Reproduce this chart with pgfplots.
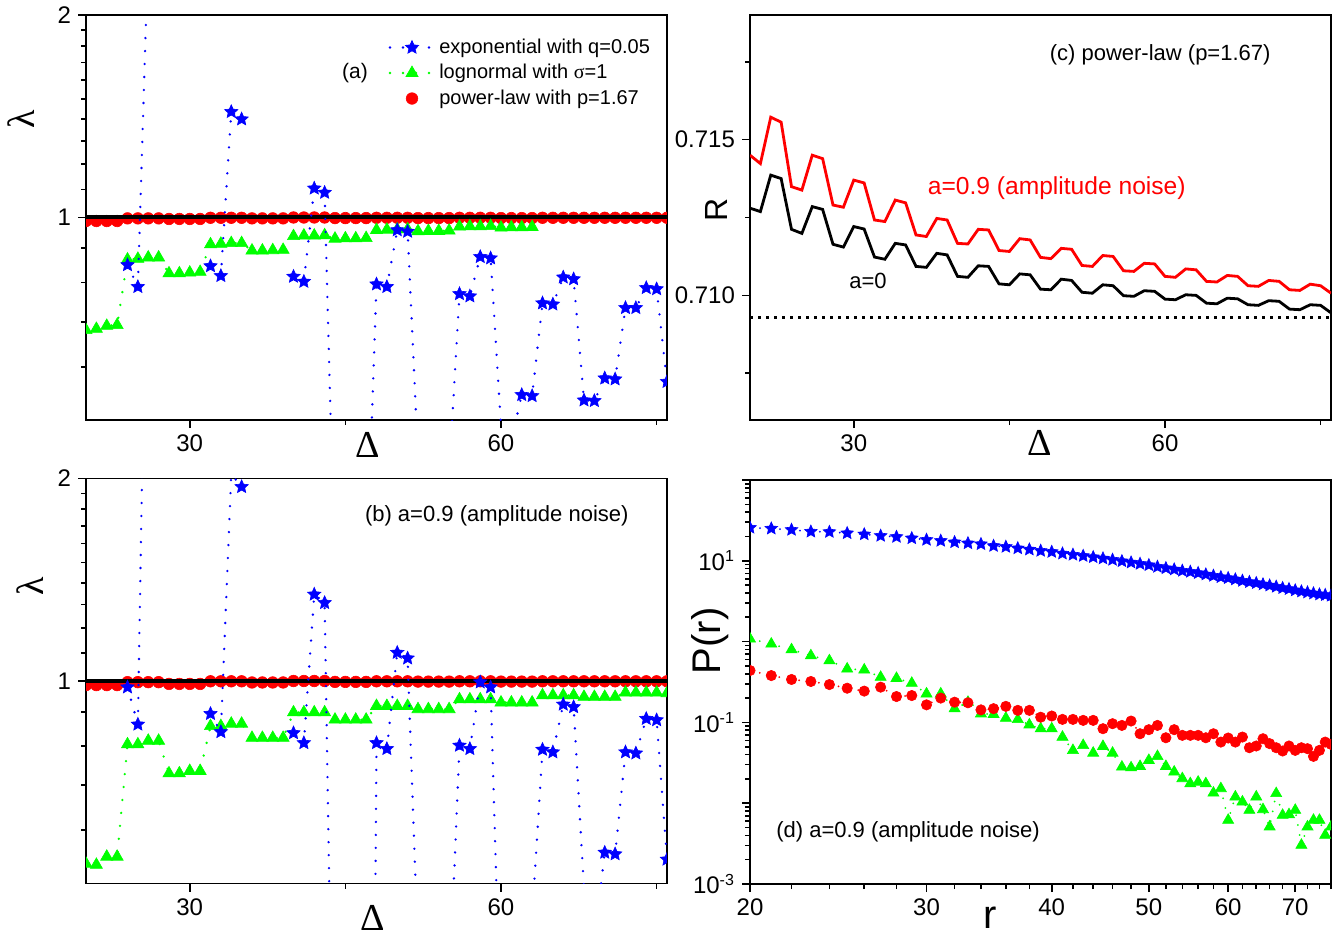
\documentclass[border=0pt]{standalone}
\usepackage{fontspec}
\setmainfont{Liberation Sans}
\newfontfamily\serifgreek{Liberation Serif}
\usepackage{pgfplots}
\pgfplotsset{compat=1.18}
\pgfdeclareplotmark{fstar}{%
  \pgfpathmoveto{\pgfpointpolar{90}{\pgfplotmarksize}}%
  \pgfpathlineto{\pgfpointpolar{126}{0.47\pgfplotmarksize}}%
  \pgfpathlineto{\pgfpointpolar{162}{\pgfplotmarksize}}%
  \pgfpathlineto{\pgfpointpolar{198}{0.47\pgfplotmarksize}}%
  \pgfpathlineto{\pgfpointpolar{234}{\pgfplotmarksize}}%
  \pgfpathlineto{\pgfpointpolar{270}{0.47\pgfplotmarksize}}%
  \pgfpathlineto{\pgfpointpolar{306}{\pgfplotmarksize}}%
  \pgfpathlineto{\pgfpointpolar{342}{0.47\pgfplotmarksize}}%
  \pgfpathlineto{\pgfpointpolar{18}{\pgfplotmarksize}}%
  \pgfpathlineto{\pgfpointpolar{54}{0.47\pgfplotmarksize}}%
  \pgfpathclose
  \pgfusepathqfillstroke
}
\definecolor{pblue}{RGB}{0,0,255}
\definecolor{pgreen}{RGB}{0,255,0}
\definecolor{pred}{RGB}{255,0,0}
\pgfplotsset{every axis/.append style={
    scale only axis, width=290.5pt, height=202.5pt,
    axis line style={line width=0.9pt},
    tick align=outside, xtick pos=lower, ytick pos=left,
    major tick length=4pt, minor tick length=2.5pt,
    tick style={line width=0.8pt, black},
    tick label style={font=\fontsize{12}{14}\selectfont},
    unbounded coords=jump, clip marker paths=true,
    label style={font=\fontsize{19}{19}\selectfont}}}
\begin{document}
\begin{tikzpicture}
\path[use as bounding box] (0,0) rectangle (668.5pt,-468.5pt);
% ---------------- (a)
\begin{axis}[anchor=north west, at={(43pt,-7.5pt)},
  xmin=20, xmax=76, ymode=log, ymin=0.5, ymax=2,
  xtick={30,60}, minor xtick={45,75}, ytick={1,2}, yticklabels={1,2},
  minor ytick={0.6,0.7,0.8,0.9,1.1,1.2,1.3,1.4,1.5,1.6,1.7,1.8,1.9},
  /pgf/number format/assume math mode=true,
  ylabel={\serifgreek λ}, xlabel={\serifgreek Δ},
  xlabel style={at={(axis description cs:0.485,-0.062)}, anchor=center},
  ylabel style={at={(axis description cs:-0.111,0.743)}, anchor=center},
  legend style={draw=none, fill=none, at={(axis description cs:0.51,0.962)}, anchor=north west,
    font=\fontsize{10}{12}\selectfont, row sep=0pt},
  legend cell align=left,
  legend image code/.code={\draw[mark repeat=2,mark phase=2,#1] plot coordinates {(0pt,0pt) (11pt,0pt) (22pt,0pt)};}]
\addlegendimage{pblue, line width=1.3pt, line cap=round, dash pattern=on 0pt off 6.5pt, mark=fstar, mark size=3.5pt, mark options={solid, line width=0.3pt, fill=pblue}}
\addlegendentry{exponential with q=0.05}
\addlegendimage{pgreen, line width=1.3pt, line cap=round, dash pattern=on 0pt off 6.5pt, mark=triangle*, mark size=3.5pt, mark options={solid, line width=0.3pt, fill=pgreen}}
\addlegendentry{lognormal with {\serifgreek σ}=1}
\addlegendimage{pred, only marks, mark=*, mark size=2.9pt, mark options={solid, line width=0.3pt, fill=pred}}
\addlegendentry{power-law with p=1.67}
\addplot[pred, only marks, mark=*, mark size=2.9pt, mark options={solid, line width=0.3pt, fill=pred}, forget plot] table {
20 0.988
21 0.988
22 0.988
23 0.988
24 0.997
25 0.997
26 0.997
27 0.997
28 0.995
29 0.995
30 0.995
31 0.995
32 0.999
33 0.999
34 0.999
35 0.999
36 0.997
37 0.997
38 0.997
39 0.997
40 1.000
41 1.000
42 1.000
43 1.000
44 0.998
45 0.998
46 0.998
47 0.998
48 0.999
49 0.999
50 0.999
51 0.999
52 0.998
53 0.998
54 0.998
55 0.998
56 0.999
57 0.999
58 0.999
59 0.999
60 0.998
61 0.998
62 0.998
63 0.998
64 0.999
65 0.999
66 0.999
67 0.999
68 0.999
69 0.999
70 0.999
71 0.999
72 0.999
73 0.999
74 0.999
75 0.999
76 0.999
};
\addplot[black, line width=2pt, forget plot] coordinates {(20,1) (76,1)};
\addplot[pgreen, line width=1.3pt, line cap=round, dash pattern=on 0pt off 6.5pt, mark=triangle*, mark size=3.5pt, mark options={solid, line width=0.3pt, fill=pgreen}, forget plot] table {
20 0.680
21 0.683
22 0.690
23 0.692
24 0.866
25 0.868
26 0.872
27 0.872
28 0.826
29 0.826
30 0.828
31 0.830
32 0.912
33 0.914
34 0.916
35 0.916
36 0.893
37 0.893
38 0.894
39 0.895
40 0.938
41 0.940
42 0.940
43 0.941
44 0.930
45 0.931
46 0.931
47 0.932
48 0.958
49 0.959
50 0.960
51 0.960
52 0.954
53 0.955
54 0.955
55 0.956
56 0.969
57 0.970
58 0.970
59 0.971
60 0.966
61 0.967
62 0.967
63 0.968
};
\addplot[pblue, line width=1.3pt, line cap=round, dash pattern=on 0pt off 6.5pt, mark=fstar, mark size=3.5pt, mark options={solid, line width=0.3pt, fill=pblue}, forget plot] table {
24 0.850
25 0.789
26 2.53
27 nan
31 nan
32 0.847
33 0.819
34 1.436
35 1.400
36 nan
39 nan
40 0.817
41 0.803
42 1.105
43 1.089
44 0.285
45 nan
47 0.283
48 0.796
49 0.789
50 0.958
51 0.953
52 0.44
53 nan
55 0.417
56 0.770
57 0.764
58 0.874
59 0.870
60 0.49
61 0.466
62 0.545
63 0.543
64 0.746
65 0.743
66 0.815
67 0.810
68 0.535
69 0.534
70 0.577
71 0.575
72 0.734
73 0.734
74 0.786
75 0.783
76 0.570
};
\node[font=\fontsize{10.5}{12}\selectfont] at (rel axis cs:0.463,0.857) {(a)};
\end{axis}
% ---------------- (b)
\begin{axis}[anchor=north west, at={(43pt,-239.25pt)},
  xmin=20, xmax=76, ymode=log, ymin=0.5, ymax=2,
  xtick={30,60}, minor xtick={45,75}, ytick={1,2}, yticklabels={1,2},
  minor ytick={0.6,0.7,0.8,0.9,1.1,1.2,1.3,1.4,1.5,1.6,1.7,1.8,1.9},
  /pgf/number format/assume math mode=true,
  ylabel={\serifgreek λ}, xlabel={\serifgreek Δ},
  xlabel style={at={(axis description cs:0.494,-0.084)}, anchor=center},
  ylabel style={at={(axis description cs:-0.096,0.734)}, anchor=center}]
\addplot[pred, only marks, mark=*, mark size=2.9pt, mark options={solid, line width=0.3pt, fill=pred}] table {
20 0.986
21 0.986
22 0.986
23 0.986
24 0.996
25 0.996
26 0.996
27 0.996
28 0.990
29 0.990
30 0.990
31 0.990
32 0.999
33 0.999
34 0.999
35 0.999
36 0.995
37 0.995
38 0.995
39 0.995
40 1.000
41 1.000
42 1.000
43 1.000
44 0.997
45 0.997
46 0.997
47 0.997
48 0.999
49 0.999
50 0.999
51 0.999
52 0.998
53 0.998
54 0.998
55 0.998
56 0.999
57 0.999
58 0.999
59 0.999
60 0.998
61 0.998
62 0.998
63 0.998
64 0.999
65 0.999
66 0.999
67 0.999
68 0.999
69 0.999
70 0.999
71 0.999
72 0.999
73 0.999
74 0.999
75 0.999
76 0.999
};
\addplot[black, line width=2pt] coordinates {(20,1) (76,1)};
\addplot[pgreen, line width=1.3pt, line cap=round, dash pattern=on 0pt off 6.5pt, mark=triangle*, mark size=3.5pt, mark options={solid, line width=0.3pt, fill=pgreen}] table {
20 0.535
21 0.533
22 0.548
23 0.548
24 0.805
25 0.805
26 0.815
27 0.815
28 0.729
29 0.729
30 0.735
31 0.735
32 0.857
33 0.857
34 0.864
35 0.864
36 0.823
37 0.823
38 0.823
39 0.823
40 0.898
41 0.898
42 0.898
43 0.898
44 0.876
45 0.876
46 0.876
47 0.876
48 0.918
49 0.918
50 0.918
51 0.918
52 0.908
53 0.908
54 0.908
55 0.908
56 0.939
57 0.939
58 0.939
59 0.939
60 0.929
61 0.929
62 0.929
63 0.929
64 0.952
65 0.952
66 0.952
67 0.952
68 0.947
69 0.947
70 0.947
71 0.947
72 0.961
73 0.961
74 0.961
75 0.961
76 0.959
};
\addplot[pblue, line width=1.3pt, line cap=round, dash pattern=on 0pt off 6.5pt, mark=fstar, mark size=3.5pt, mark options={solid, line width=0.3pt, fill=pblue}] table {
24 0.979
25 0.862
26 7.1
27 nan
31 nan
32 0.894
33 0.840
34 2.03
35 1.944
36 nan
39 nan
40 0.837
41 0.809
42 1.345
43 1.307
44 0.15
45 nan
47 0.0066
48 0.809
49 0.793
50 1.102
51 1.081
52 0.397
53 nan
55 0.341
56 0.802
57 0.793
58 0.996
59 0.979
60 0.289
61 nan
63 0.445
64 0.791
65 0.784
66 0.923
67 0.915
68 0.49
69 0.41
70 0.556
71 0.553
72 0.784
73 0.781
74 0.879
75 0.875
76 0.543
};
\node[font=\fontsize{11}{13}\selectfont] at (rel axis cs:0.707,0.909) {(b) a=0.9 (amplitude noise)};
\end{axis}
% ---------------- (c)
\begin{axis}[anchor=north west, at={(375pt,-7.5pt)}, xmin=20, xmax=76, ymin=0.706, ymax=0.719,
  xtick={30,60}, minor xtick={45,75}, ytick={0.710,0.715}, yticklabels={0.710,0.715},
  minor ytick={0.7075,0.7125,0.7175},
  /pgf/number format/assume math mode=true,
  xlabel={\serifgreek Δ}, ylabel={R},
  xlabel style={at={(axis description cs:0.499,-0.057)}, anchor=center},
  ylabel style={at={(axis description cs:-0.057,0.519)}, anchor=center, font=\fontsize{16}{16}\selectfont}]
\addplot[black, line width=1.4pt, dash pattern=on 1.4pt off 2.6pt] coordinates {(20,0.7093) (76,0.7093)};
\addplot[pred, line width=1.4pt] table {
20 0.71450
21 0.71423
22 0.71572
23 0.71556
24 0.71349
25 0.71338
26 0.71450
27 0.71439
28 0.71290
29 0.71283
30 0.71370
31 0.71361
32 0.71242
33 0.71237
34 0.71306
35 0.71297
36 0.71194
37 0.71189
38 0.71247
39 0.71242
40 0.71167
41 0.71165
42 0.71212
43 0.71210
44 0.71144
45 0.71141
46 0.71182
47 0.71178
48 0.71122
49 0.71118
50 0.71151
51 0.71148
52 0.71096
53 0.71093
54 0.71128
55 0.71125
56 0.71079
57 0.71077
58 0.71103
59 0.71101
60 0.71061
61 0.71058
62 0.71085
63 0.71082
64 0.71045
65 0.71043
66 0.71064
67 0.71061
68 0.71031
69 0.71029
70 0.71048
71 0.71045
72 0.71018
73 0.71016
74 0.71036
75 0.71031
76 0.71007
};
\addplot[black, line width=1.4pt] table {
20 0.71280
21 0.71269
22 0.71386
23 0.71375
24 0.71212
25 0.71199
26 0.71285
27 0.71276
28 0.71164
29 0.71155
30 0.71221
31 0.71213
32 0.71123
33 0.71116
34 0.71167
35 0.71162
36 0.71093
37 0.71090
38 0.71135
39 0.71130
40 0.71061
41 0.71058
42 0.71095
43 0.71093
44 0.71037
45 0.71034
46 0.71069
47 0.71066
48 0.71020
49 0.71018
50 0.71052
51 0.71048
52 0.71010
53 0.71007
54 0.71034
55 0.71031
56 0.70999
57 0.70997
58 0.71015
59 0.71013
60 0.70988
61 0.70986
62 0.71002
63 0.71000
64 0.70975
65 0.70973
66 0.70991
67 0.70989
68 0.70970
69 0.70968
70 0.70983
71 0.70981
72 0.70956
73 0.70954
74 0.70970
75 0.70968
76 0.70944
};
\node[font=\fontsize{11}{13}\selectfont] at (rel axis cs:0.706,0.901) {(c) power-law (p=1.67)};
\node[font=\fontsize{12.3}{14}\selectfont, text=pred] at (rel axis cs:0.528,0.573) {a=0.9 (amplitude noise)};
\node[font=\fontsize{11}{13}\selectfont] at (rel axis cs:0.203,0.343) {a=0};
\end{axis}
% ---------------- (d)
\begin{axis}[anchor=north west, at={(375pt,-240pt)}, height=202pt, xmode=log, ymode=log,
  xmin=20, xmax=76, ymin=0.001, ymax=100,
  xtick={20,30,40,50,60,70}, xticklabels={20,30,40,50,60,70},
  minor xtick={22,24,26,28,32,34,36,38,42,44,46,48,52,54,56,58,62,64,66,68,72,74,76},
  ytick={0.001,0.01,0.1,1,10,100},
  yticklabels={{10\textsuperscript{-3}},{},{10\textsuperscript{-1}},{},{10\textsuperscript{1}},{}},
  /pgf/number format/assume math mode=true,
  xlabel={r}, ylabel={P(r)},
  xlabel style={at={(axis description cs:0.413,-0.084)}, anchor=center, font=\fontsize{20}{20}\selectfont},
  ylabel style={at={(axis description cs:-0.068,0.602)}, anchor=center, font=\fontsize{20}{20}\selectfont}]
\addplot[pblue, line width=1pt, line cap=round, dash pattern=on 0pt off 5pt, mark=fstar, mark size=3.3pt, mark options={solid, line width=0.3pt, fill=pblue}] table {
20 25.7
21 25.1
22 24.2
23 23.0
24 22.8
25 22.0
26 21.3
27 20.4
28 19.8
29 19.05
30 18.2
31 17.7
32 17.0
33 16.5
34 16.1
35 15.3
36 14.9
37 14.3
38 13.8
39 13.3
40 12.9
41 12.3
42 11.9
43 11.5
44 11.1
45 10.7
46 10.3
47 9.9
48 9.53
49 9.18
50 8.85
51 8.43
52 8.11
53 7.82
54 7.53
55 7.31
56 7.05
57 6.78
58 6.53
59 6.28
60 6.11
61 5.89
62 5.66
63 5.46
64 5.30
65 5.11
66 4.95
67 4.78
68 4.60
69 4.47
70 4.31
71 4.18
72 4.06
73 3.95
74 3.84
75 3.77
76 3.70
};
\addplot[pgreen, line width=1pt, line cap=round, dash pattern=on 0pt off 5pt, mark=triangle*, mark size=3.2pt, mark options={solid, line width=0.3pt, fill=pgreen}] table {
20 1.08
21 0.935
22 0.796
23 0.671
24 0.582
25 0.460
26 0.447
27 0.363
28 0.352
29 0.306
30 0.226
31 0.226
32 0.148
33 0.178
34 0.128
35 0.126
36 0.113
37 0.109
38 0.0935
39 0.0836
40 0.0836
41 0.0659
42 0.0451
43 0.0520
44 0.0418
45 0.0506
46 0.0418
47 0.0281
48 0.0275
49 0.0286
50 0.0340
51 0.0380
52 0.0286
53 0.0244
54 0.0202
55 0.0175
56 0.0183
57 0.0175
58 0.0134
59 0.0152
60 0.00617
61 0.0120
62 0.0104
63 0.0082
64 0.0120
65 0.00836
66 0.00511
67 0.0132
68 0.00711
69 0.00724
70 0.0082
71 0.00303
72 0.00511
73 0.00617
74 0.00617
75 0.00403
76 0.00511
};
\addplot[pred, line width=1pt, line cap=round, dash pattern=on 0pt off 5pt, mark=*, mark size=2.6pt, mark options={solid, line width=0.3pt, fill=pred}] table {
20 0.439
21 0.380
22 0.340
23 0.321
24 0.294
25 0.265
26 0.244
27 0.273
28 0.209
29 0.215
30 0.165
31 0.200
32 0.178
33 0.175
34 0.143
35 0.148
36 0.158
37 0.141
38 0.141
39 0.116
40 0.120
41 0.109
42 0.109
43 0.106
44 0.106
45 0.0836
46 0.0964
47 0.0918
48 0.104
49 0.0724
50 0.0813
51 0.0918
52 0.0646
53 0.0813
54 0.0692
55 0.0692
56 0.0692
57 0.0646
58 0.0724
59 0.0571
60 0.0641
61 0.0571
62 0.0659
63 0.0486
64 0.0511
65 0.0628
66 0.0546
67 0.0486
68 0.0443
69 0.0511
70 0.0451
71 0.0486
72 0.0473
73 0.0380
74 0.0451
75 0.0571
76 0.0535
};
\node[font=\fontsize{11}{13}\selectfont] at (rel axis cs:0.272,0.128) {(d) a=0.9 (amplitude noise)};
\end{axis}
\end{tikzpicture}
\end{document}
